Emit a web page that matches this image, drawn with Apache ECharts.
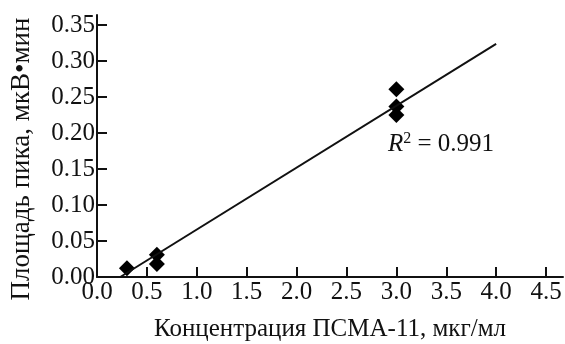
<!DOCTYPE html>
<html><head><meta charset="utf-8">
<script src="https://cdn.jsdelivr.net/npm/echarts@6/dist/echarts.min.js"></script>
<style>html,body{margin:0;padding:0;background:#fff}#c{width:565px;height:344px}</style>
</head><body><div id="c"></div>
<script>
const xName = 'Концентрация ПСМА-11, мкг/мл';
const yName = 'Площадь пика, мкВ•мин';
const pointsX = [0.30, 0.60, 0.60, 3.00, 3.00, 3.00];
const pointsY = [0.012, 0.031, 0.018, 0.261, 0.237, 0.225];
const lineX = [0.233, 4.0];
const lineY = [0.0, 0.324];
const r2Text = '0.991';

const font = 'Liberation Serif';
const chart = echarts.init(document.getElementById('c'));
chart.setOption({
  animation: false,
  grid: {left: 97, top: 15, right: 2, bottom: 67, containLabel: false, outerBoundsMode: 'none'},
  xAxis: {
    type: 'value', min: 0, max: 4.67, interval: 0.5,
    name: xName, nameLocation: 'middle', nameGap: 40,
    nameTextStyle: {fontFamily: font, fontSize: 25, color: '#111'},
    axisLine: {lineStyle: {color: '#111', width: 2}},
    axisTick: {inside: true, length: 10, lineStyle: {color: '#111', width: 2}},
    axisLabel: {showMaxLabel: false, margin: 3, fontFamily: font, fontSize: 25, color: '#111',
      formatter: v => v.toFixed(1)},
    splitLine: {show: false}
  },
  yAxis: {
    type: 'value', min: 0, max: 0.364, interval: 0.05,
    axisLine: {show: true, lineStyle: {color: '#111', width: 2}},
    axisTick: {show: true, inside: true, length: 10, lineStyle: {color: '#111', width: 2}},
    axisLabel: {showMaxLabel: false, margin: 2, fontFamily: font, fontSize: 25, color: '#111',
      formatter: v => v.toFixed(2)},
    splitLine: {show: false}
  },
  series: [
    {type: 'line', data: lineX.map((x, i) => [x, lineY[i]]), showSymbol: false,
      lineStyle: {color: '#111', width: 2}},
    {type: 'scatter', data: pointsX.map((x, i) => [x, pointsY[i]]), symbol: 'diamond',
      symbolSize: 16, itemStyle: {color: '#000', opacity: 1}}
  ],
  graphic: [{
    type: 'text', x: 22, y: 159, rotation: Math.PI / 2,
    style: {text: yName, fontFamily: font, fontSize: 27, fill: '#111',
      align: 'center', verticalAlign: 'middle'}
  }, {
    type: 'text', left: 388, top: 131,
    style: {
      text: '{i|R}{s|2}{n| = ' + r2Text + '}',
      rich: {
        i: {fontFamily: font, fontStyle: 'italic', fontSize: 25, fill: '#111'},
        s: {fontFamily: font, fontSize: 16, fill: '#111', verticalAlign: 'top', padding: [0,0,10,0]},
        n: {fontFamily: font, fontSize: 25, fill: '#111'}
      }
    }
  }]
});
</script></body></html>
